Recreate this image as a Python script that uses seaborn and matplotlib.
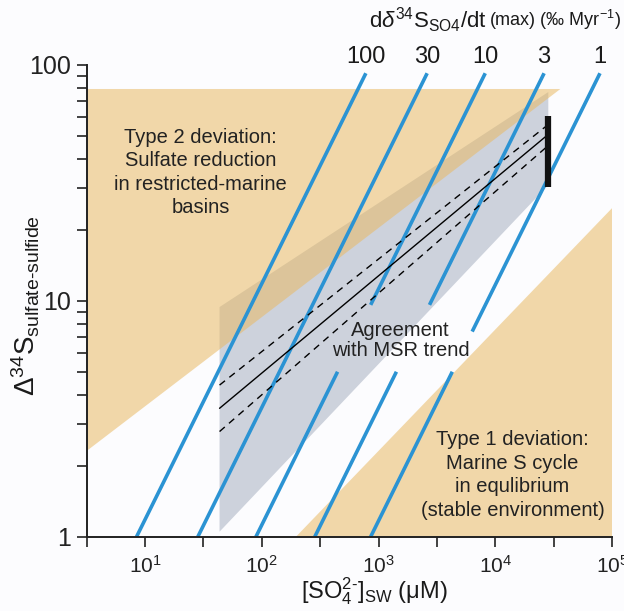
import numpy as np
import pandas as pd
import seaborn as sns
import matplotlib.pyplot as plt
from matplotlib.ticker import FixedLocator, NullLocator, FixedFormatter

# rate lines (d delta34S / dt max, permil per Myr)
rates = ["100", "30", "10", "3", "1"]
so4_at_delta1 = [8.45, 28.3, 89.0, 284.0, 855.0]   # [SO4] where each line meets 1 permil
line_top = 92.0
gap_low = [None, None, 5.0, 5.0, 5.0]
gap_high = [None, None, 9.6, 9.6, 7.4]

# MSR trend and its bounds
trend_x = [43.4, 28000.0]
trend_mid = [3.5, 50.4]
trend_hi = [4.39, 55.5]
trend_lo = [2.79, 45.2]

# vertical bar (modern seawater)
bar_x = 28400.0
bar_y = [30.4, 60.6]

# shaded regions
type2_x = [10 ** 0.5, 36000.0, 10 ** 0.5]
type2_y = [78.9, 78.9, 2.31]
msr_x = [43.4, 28400.0, 28400.0, 43.4]
msr_y = [9.4, 76.6, 30.9, 1.05]
type1_x = [196.0, 1e5, 1e5]
type1_y = [1.0, 24.7, 1.0]

sns.set_style("ticks")
plt.rcParams["font.family"] = ["Liberation Sans", "DejaVu Sans"]
plt.rcParams["mathtext.fontset"] = "custom"
plt.rcParams["mathtext.rm"] = "Liberation Sans"
plt.rcParams["mathtext.it"] = "Liberation Sans:italic"
plt.rcParams["mathtext.bf"] = "Liberation Sans:bold"

fig = plt.figure(figsize=(6.24, 6.11), dpi=100, facecolor="#fcfcfe")
ax = fig.add_axes([0.139, 0.1216, 0.842, 0.7725])
ax.set_facecolor("#fcfcfe")
ax.set_xscale("log")
ax.set_yscale("log")

ax.fill(msr_x, msr_y, color="#cdd2dc", lw=0, zorder=1)
ax.fill(type2_x, type2_y, color="#e9ba64", alpha=0.55, lw=0, zorder=2)
ax.fill(type1_x, type1_y, color="#e9ba64", alpha=0.55, lw=0, zorder=2)

blue = "#2b93d3"
for r, x0, g0, g1 in zip(rates, so4_at_delta1, gap_low, gap_high):
    # lines of constant rate have slope 1 in log-log space
    if g0 is None:
        ys = [1.0, line_top]
    else:
        ys = [1.0, g0, np.nan, g1, line_top]
    xs = [x0 * y if not np.isnan(y) else np.nan for y in ys]
    ax.plot(xs, ys, color=blue, lw=2.6, solid_capstyle="butt", zorder=3)
    ax.text(x0 * line_top, 108, r, ha="center", va="center", fontsize=17,
            color="#1a1a1a", clip_on=False)

trend = pd.DataFrame({
    "so4": trend_x * 3,
    "delta": trend_mid + trend_hi + trend_lo,
    "kind": ["fit"] * 2 + ["upper"] * 2 + ["lower"] * 2,
})
sns.lineplot(data=trend, x="so4", y="delta", style="kind", units="kind",
             estimator=None, color="black", lw=1.0, ax=ax, legend=False,
             dashes={"fit": "", "upper": (5, 4), "lower": (5, 4)}, zorder=4)
ax.plot([bar_x, bar_x], bar_y, color="#111111", lw=4.5,
        solid_capstyle="butt", zorder=5)
ax.set_xlabel("")
ax.set_ylabel("")

ax.set_xlim(10 ** 0.5, 1e5)
ax.set_ylim(1, 100)

xt = [10 ** (k / 2) for k in range(1, 11)]
xl = [r"$10^{%d}$" % (k // 2) if k % 2 == 0 else "" for k in range(1, 11)]
ax.xaxis.set_major_locator(FixedLocator(xt))
ax.xaxis.set_major_formatter(FixedFormatter(xl))
ax.xaxis.set_minor_locator(NullLocator())
ax.yaxis.set_major_locator(FixedLocator([1, 10, 100]))
ax.yaxis.set_major_formatter(FixedFormatter(["1", "10", "100"]))
ax.yaxis.set_minor_locator(FixedLocator([2, 3, 4, 5, 6, 7, 8, 9,
                                          20, 30, 40, 50, 60, 70, 80, 90]))
ax.yaxis.set_minor_formatter(FixedFormatter([""] * 16))
ax.tick_params(axis="both", which="both", direction="out", length=7,
               width=1.2, color="#222222")
ax.tick_params(axis="x", labelsize=15, pad=6, labelcolor="#222222")
ax.tick_params(axis="y", labelsize=18, pad=4, labelcolor="#222222")
for s in ["top", "right"]:
    ax.spines[s].set_visible(False)
for s in ["left", "bottom"]:
    ax.spines[s].set_linewidth(1.4)
    ax.spines[s].set_color("#222222")
    ax.spines[s].set_zorder(6)

txt = dict(ha="center", va="center", fontsize=14.5, color="#222222", zorder=7)
ax.text(30, 35, "Type 2 deviation:\nSulfate reduction\nin restricted-marine\nbasins",
        linespacing=1.3, **txt)
ax.text(1540, 6.8, "Agreement\nwith MSR trend", linespacing=1.05, **txt)
ax.text(14000, 1.83, "Type 1 deviation:\nMarine S cycle\nin equlibrium\n(stable environment)",
        linespacing=1.3, **txt)

fig.text(0.780, 0.967, r"d$\delta^{34}$S$_{\text{SO4}}$/dt", ha="right",
         va="center", fontsize=16, color="#1a1a1a")
fig.text(0.783, 0.967, r"(max) (‰ Myr$^{-1}$)", ha="left", va="center",
         fontsize=13, color="#1a1a1a")
fig.text(0.6, 0.006, r"[SO$_4^{2\text{-}}$]$_{\text{SW}}$ (μM)", ha="center",
         va="bottom", fontsize=17, color="#1a1a1a")
fig.text(0.042, 0.5, r"$\Delta^{34}$S$_{\text{sulfate-sulfide}}$", rotation=90,
         ha="center", va="center", fontsize=20, color="#1a1a1a")

fig.savefig("out.png", dpi=100, facecolor=fig.get_facecolor())
